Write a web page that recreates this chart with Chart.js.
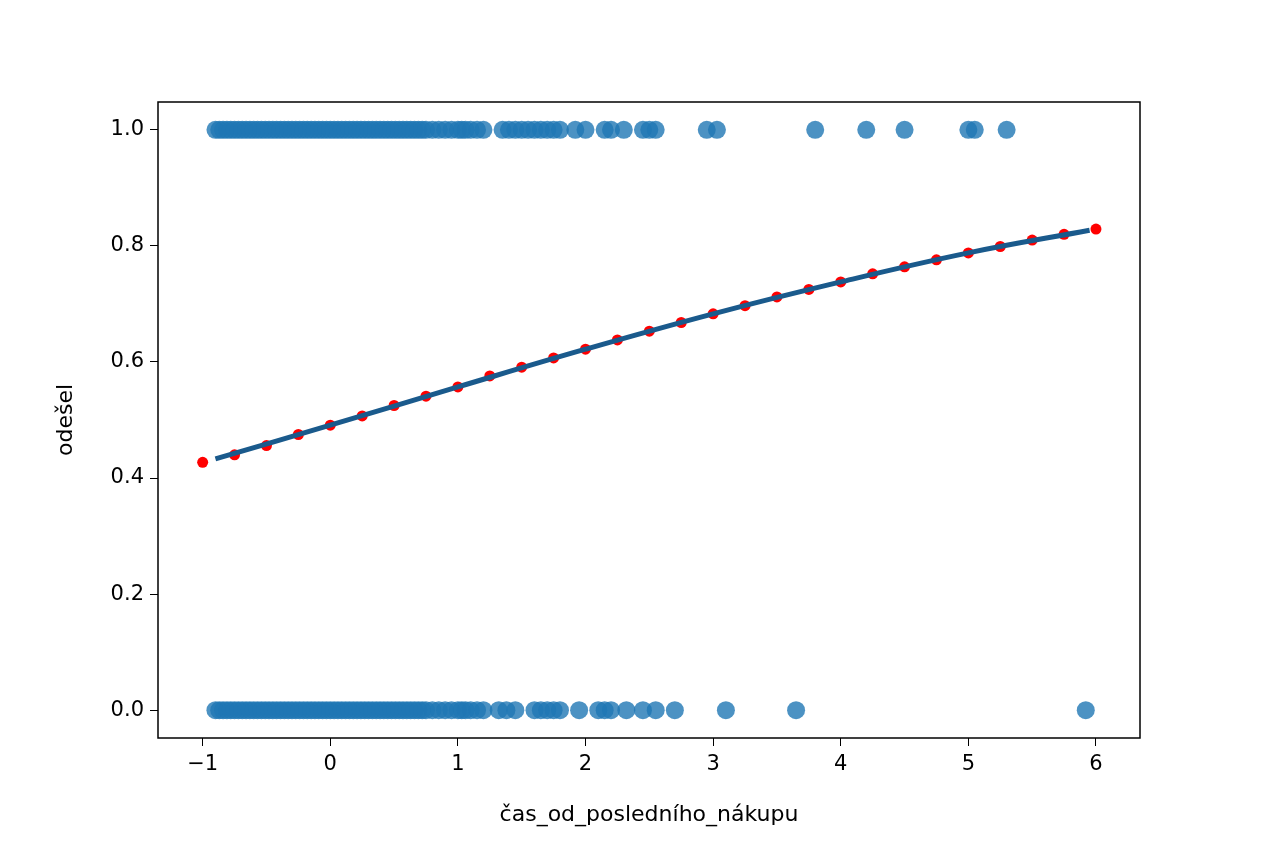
<!DOCTYPE html>
<html><head><meta charset="utf-8">
<script src="https://cdn.jsdelivr.net/npm/chart.js@4"></script>
<style>html,body{margin:0;padding:0;background:#fff}#w{width:1264px;height:843px}</style>
</head><body><div id="w"><canvas id="c"></canvas></div>
<script>
const ones = [-0.9,-0.87,-0.84,-0.81,-0.78,-0.75,-0.72,-0.69,-0.66,-0.63,-0.6,-0.57,-0.54,-0.51,-0.48,-0.45,-0.42,-0.39,-0.36,-0.33,-0.3,-0.27,-0.24,-0.21,-0.18,-0.15,-0.12,-0.09,-0.06,-0.03,0,0.03,0.06,0.09,0.12,0.15,0.18,0.21,0.24,0.27,0.3,0.33,0.36,0.39,0.42,0.45,0.48,0.51,0.54,0.57,0.6,0.63,0.66,0.69,0.72,0.75,0.8,0.85,0.9,0.95,1.0,1.03,1.06,1.1,1.15,1.2,1.35,1.4,1.45,1.5,1.55,1.6,1.65,1.7,1.75,1.8,1.92,2.0,2.15,2.2,2.3,2.45,2.5,2.55,2.95,3.03,3.8,4.2,4.5,5.0,5.05,5.3];
const zeros = [-0.9,-0.87,-0.84,-0.81,-0.78,-0.75,-0.72,-0.69,-0.66,-0.63,-0.6,-0.57,-0.54,-0.51,-0.48,-0.45,-0.42,-0.39,-0.36,-0.33,-0.3,-0.27,-0.24,-0.21,-0.18,-0.15,-0.12,-0.09,-0.06,-0.03,0,0.03,0.06,0.09,0.12,0.15,0.18,0.21,0.24,0.27,0.3,0.33,0.36,0.39,0.42,0.45,0.48,0.51,0.54,0.57,0.6,0.63,0.66,0.69,0.72,0.75,0.8,0.85,0.9,0.95,1.0,1.03,1.06,1.1,1.15,1.2,1.32,1.38,1.45,1.6,1.65,1.7,1.75,1.8,1.95,2.1,2.15,2.2,2.32,2.45,2.55,2.7,3.1,3.65,5.92];
const predX = [-1,-0.75,-0.5,-0.25,0,0.25,0.5,0.75,1,1.25,1.5,1.75,2,2.25,2.5,2.75,3,3.25,3.5,3.75,4,4.25,4.5,4.75,5,5.25,5.5,5.75,6];
const predY = [0.427,0.44,0.456,0.475,0.491,0.507,0.525,0.541,0.557,0.576,0.591,0.607,0.622,0.638,0.653,0.668,0.683,0.697,0.712,0.725,0.738,0.752,0.764,0.776,0.788,0.799,0.81,0.82,0.829];
const lineX = [-0.9,0,1,2,3,4,5,5.95];
const lineY = [0.433,0.491,0.557,0.622,0.683,0.738,0.788,0.827];
const xTitle='čas_od_posledního_nákupu', yTitle='odešel';
const blue='rgba(31,119,180,0.8)';
const frame={id:'f',afterDraw(c){const a=c.chartArea,x=c.ctx;x.save();x.strokeStyle='#000';x.lineWidth=1.5;x.strokeRect(a.left,a.top,a.right-a.left,a.bottom-a.top);
 x.fillStyle='#000';x.font='22px "DejaVu Sans"';x.textAlign='center';x.textBaseline='middle';
 x.fillText(xTitle,(a.left+a.right)/2,815);
 x.translate(66,(a.top+a.bottom)/2);x.rotate(-Math.PI/2);x.fillText(yTitle,0,0);x.restore();}};
const grid={display:true,drawOnChartArea:false,drawTicks:true,tickLength:8,color:'#000'};
new Chart(document.getElementById('c'),{
 type:'scatter',
 data:{datasets:[
  {data:predX.map((x,i)=>({x,y:predY[i]})),backgroundColor:'#ff0000',borderWidth:0,pointRadius:5.5,order:3},
  {type:'line',data:lineX.map((x,i)=>({x,y:lineY[i]})),borderColor:'#1a5a8c',borderWidth:5,pointRadius:0,tension:0.4,order:2},
  {data:ones.map(x=>({x,y:1})).concat(zeros.map(x=>({x,y:0}))),backgroundColor:blue,borderWidth:0,pointRadius:9,order:1}
 ]},
 options:{responsive:true,maintainAspectRatio:false,animation:false,
  layout:{padding:{top:102,right:124,left:0,bottom:0}},
  plugins:{legend:{display:false},tooltip:{enabled:false}},
  scales:{
   x:{type:'linear',min:-1.35,max:6.345,afterBuildTicks(s){s.ticks=[-1,0,1,2,3,4,5,6].map(v=>({value:v}));},
      afterFit(s){s.height=105;},grid,border:{display:false},
      ticks:{color:'#000',font:{family:'DejaVu Sans',size:21},callback:v=>String(v).replace('-','−'),padding:6}},
   y:{min:-0.048,max:1.048,afterBuildTicks(s){s.ticks=[0,0.2,0.4,0.6,0.8,1].map(v=>({value:v}));},
      afterFit(s){s.width=158;},grid,border:{display:false},
      ticks:{color:'#000',font:{family:'DejaVu Sans',size:21},callback:v=>v.toFixed(1),padding:6}}
  }},
 plugins:[frame]
});
</script></body></html>
